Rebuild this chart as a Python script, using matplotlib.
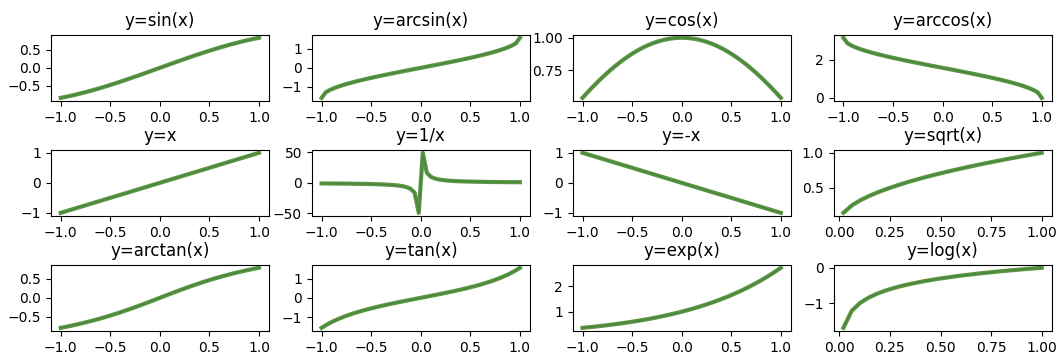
import numpy as np
import matplotlib
matplotlib.use("Agg")
import matplotlib.pyplot as plt
from matplotlib.ticker import MultipleLocator

# sample grid used by every panel
x = np.linspace(-1, 1, 50)
x_pos = x[x > 0]

titles = ["y=sin(x)", "y=arcsin(x)", "y=cos(x)", "y=arccos(x)",
          "y=x", "y=1/x", "y=-x", "y=sqrt(x)",
          "y=arctan(x)", "y=tan(x)", "y=exp(x)", "y=log(x)"]

xs = [x, x, x, x,
      x, x, x, x_pos,
      x, x, x, x_pos]

ys = [np.sin(x), np.arcsin(x), np.cos(x), np.arccos(x),
      x, 1 / x, -x, np.sqrt(x_pos),
      np.arctan(x), np.tan(x), np.exp(x), np.log10(x_pos)]

fig, axes = plt.subplots(3, 4, figsize=(10.58, 3.55), dpi=100)

for ax, t, xx, yy in zip(axes.flat, titles, xs, ys):
    ax.plot(xx, yy, color="C0", lw=1)
    ax.plot(xx, yy, color="#4b8a30", lw=3, alpha=0.9)
    ax.set_title(t, fontsize=12)
    ax.xaxis.set_major_locator(MultipleLocator(0.25 if xx.min() > 0 else 0.5))

plt.subplots_adjust(left=0.048, right=0.994, top=0.902, bottom=0.068,
                    wspace=0.196, hspace=0.74)
plt.savefig("out.png")
